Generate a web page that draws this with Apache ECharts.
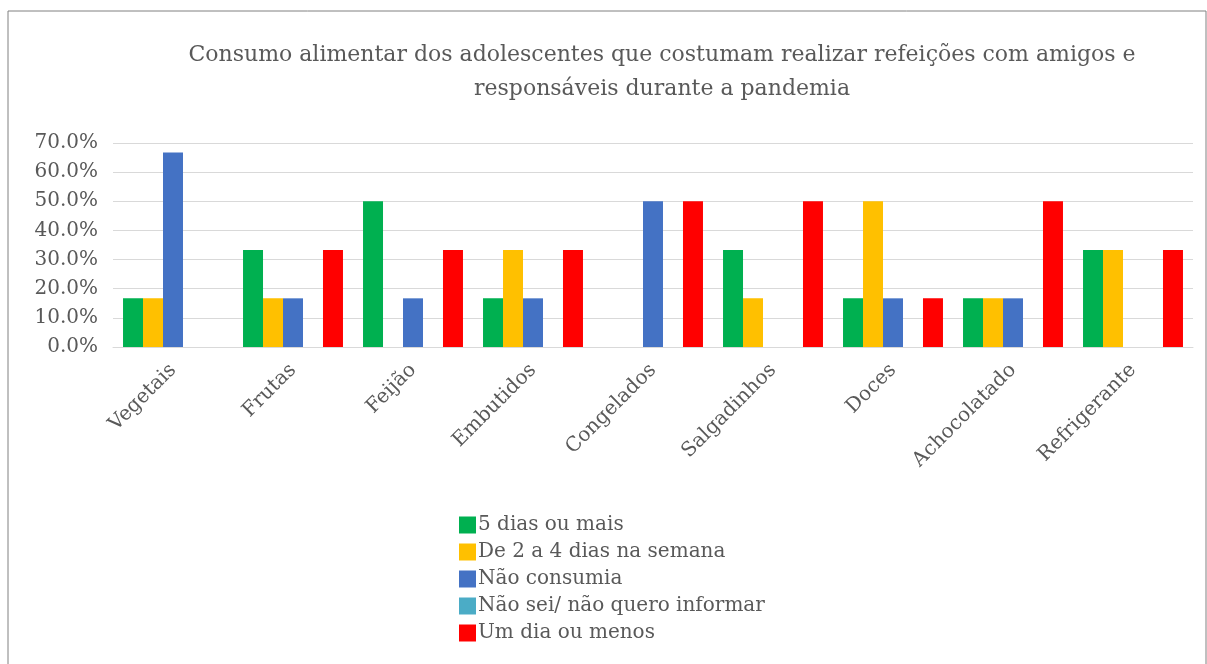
<!DOCTYPE html>
<html>
<head>
<meta charset="utf-8">
<script src="https://cdn.jsdelivr.net/npm/echarts@6/dist/echarts.min.js"></script>
<style>
  html, body { margin: 0; padding: 0; background: #fff; }
  #chart { width: 1207px; height: 664px; }
</style>
</head>
<body>
<div id="chart"></div>
<script>
const categories = ['Vegetais', 'Frutas', 'Feijão', 'Embutidos', 'Congelados', 'Salgadinhos', 'Doces', 'Achocolatado', 'Refrigerante'];
const seriesNames = ['5 dias ou mais', 'De 2 a 4 dias na semana', 'Não consumia', 'Não sei/ não quero informar', 'Um dia ou menos'];
const cincoDias = [16.7, 33.3, 50.0, 16.7, 0, 33.3, 16.7, 16.7, 33.3];
const doisAQuatro = [16.7, 16.7, 0, 33.3, 0, 16.7, 50.0, 16.7, 33.3];
const naoConsumia = [66.7, 16.7, 16.7, 16.7, 50.0, 0, 16.7, 16.7, 0];
const naoSei = [0, 0, 0, 0, 0, 0, 0, 0, 0];
const umDia = [0, 33.3, 33.3, 33.3, 50.0, 50.0, 16.7, 50.0, 33.3];
const colors = ['#00B050', '#FFC000', '#4472C4', '#4BACC6', '#FF0000'];

const font = '"DejaVu Serif", serif';
const textColor = '#595959';

var myChart = echarts.init(document.getElementById('chart'));

const allValues = [cincoDias, doisAQuatro, naoConsumia, naoSei, umDia];

myChart.setOption({
  animation: false,
  textStyle: {fontFamily: font, color: textColor},
  title: {
    text: 'Consumo alimentar dos adolescentes que costumam realizar refeições com amigos e\nresponsáveis durante a pandemia',
    left: 657,
    top: 33,
    textAlign: 'center',
    textStyle: {
      fontFamily: font,
      fontSize: 22,
      fontWeight: 'normal',
      color: textColor,
      lineHeight: 34
    }
  },
  legend: {
    orient: 'vertical',
    left: 454,
    top: 510,
    itemWidth: 17,
    itemHeight: 17,
    itemGap: 7,
    icon: 'rect',
    data: seriesNames,
    textStyle: {fontFamily: font, fontSize: 20, color: textColor, padding: [0, 0, 0, -3]}
  },
  graphic: [{
    type: 'rect',
    shape: {x: 8, y: 11, width: 1198, height: 700},
    style: {fill: 'none', stroke: '#808080', lineWidth: 1}
  }],
  grid: {left: 113, right: 14, top: 143, bottom: 317},
  xAxis: {
    type: 'category',
    data: categories,
    axisTick: {show: false},
    axisLine: {lineStyle: {color: '#D9D9D9'}},
    axisLabel: {
      rotate: 45,
      margin: 20,
      fontFamily: font,
      fontSize: 20,
      color: textColor
    }
  },
  yAxis: {
    type: 'value',
    min: 0,
    max: 70,
    interval: 10,
    axisLine: {show: false},
    axisTick: {show: false},
    splitLine: {lineStyle: {color: '#D9D9D9'}},
    axisLabel: {
      margin: 15,
      fontFamily: font,
      fontSize: 20,
      color: textColor,
      formatter: (v) => v.toFixed(1) + '%'
    }
  },
  series: seriesNames.map((name, i) => ({
    name: name,
    type: 'bar',
    data: allValues[i],
    barGap: 0,
    barCategoryGap: '16.7%',
    itemStyle: {color: colors[i]}
  }))
});
</script>
</body>
</html>
